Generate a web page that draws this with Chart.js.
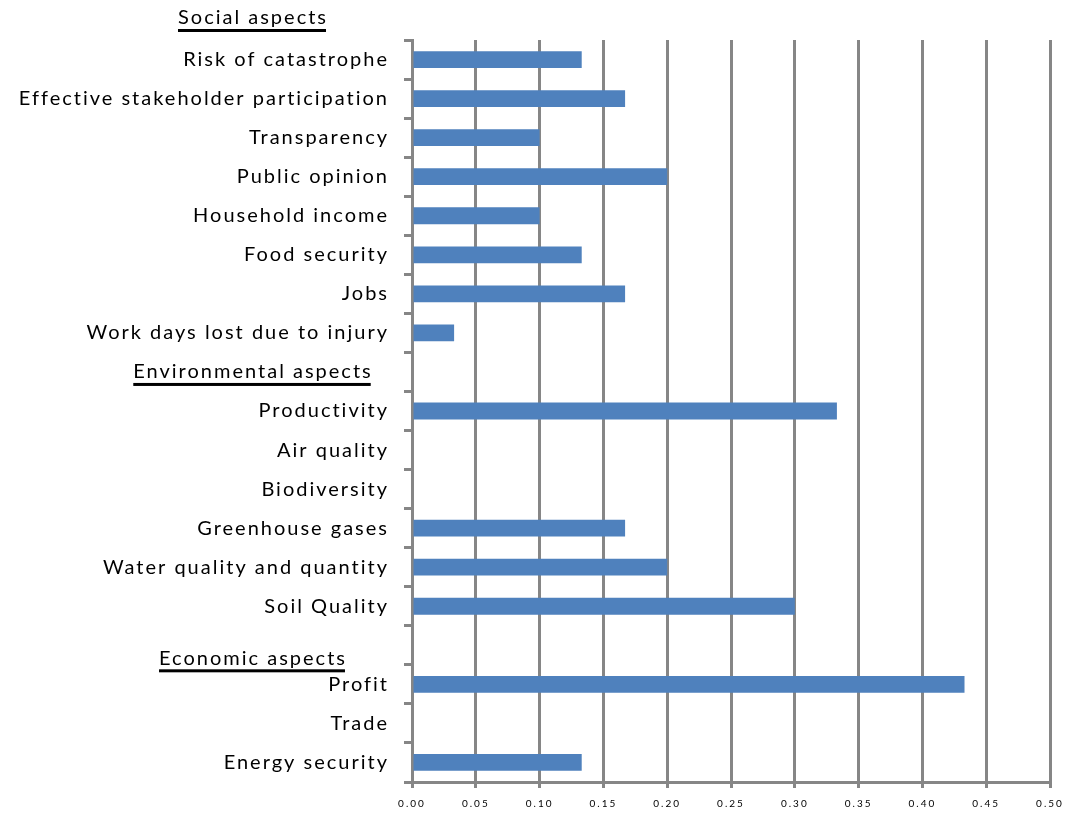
<!DOCTYPE html>
<html>
<head>
<meta charset="utf-8">
<script src="https://cdn.jsdelivr.net/npm/chart.js@4"></script>
<style>
  body { margin: 0; background: #fff; }
  #wrap { width: 1077px; height: 819px; }
</style>
</head>
<body>
<div id="wrap"><canvas id="chartAspects"></canvas></div>
<script>
// Categories from top to bottom ('' = row used by a section header)
const categories = [
    'Risk of catastrophe', 'Effective stakeholder participation', 'Transparency',
    'Public opinion', 'Household income', 'Food security', 'Jobs',
    'Work days lost due to injury', '',
    'Productivity', 'Air quality', 'Biodiversity', 'Greenhouse gases',
    'Water quality and quantity', 'Soil Quality', '',
    'Profit', 'Trade', 'Energy security'
];
const weights = [
    0.133, 0.167, 0.10, 0.20, 0.10, 0.133, 0.167, 0.033, null,
    0.333, 0, 0, 0.167, 0.20, 0.30, null,
    0.433, 0, 0.133
];
const headers = ['Social aspects', 'Environmental aspects', 'Economic aspects'];
const xTicks = [0, 0.05, 0.10, 0.15, 0.20, 0.25, 0.30, 0.35, 0.40, 0.45, 0.50];

const labelFont = 'Lato, "Open Sans", sans-serif';

// Wide letter spacing for the axis texts (the original looks spread out)
const spacingPlugin = {
    id: 'spacing',
    beforeDraw(chart) { chart.ctx.letterSpacing = '2px'; },
    beforeDatasetsDraw(chart) { chart.ctx.letterSpacing = '0px'; }
};

// Draw the underlined section headers
const headerPlugin = {
    id: 'headers',
    afterDraw(chart) {
        const ctx = chart.ctx;
        const y = chart.scales.y;
        const cx = 252;
        const spots = [
            chart.chartArea.top - 22,
            y.getPixelForValue(8),
            y.getPixelForValue(15) + 13
        ];
        ctx.save();
        ctx.letterSpacing = '2px';
        ctx.font = '20px ' + labelFont;
        ctx.fillStyle = '#000';
        ctx.textAlign = 'center';
        ctx.textBaseline = 'middle';
        headers.forEach((h, i) => {
            const w = ctx.measureText(h).width - 2;
            ctx.fillText(h, cx + 1, spots[i]);
            ctx.fillRect(cx - w / 2, spots[i] + 11, w, 3);
        });
        ctx.restore();
    }
};

const ctx = document.getElementById('chartAspects').getContext('2d');
new Chart(ctx, {
    type: 'bar',
    data: {
        labels: categories,
        datasets: [{
            data: weights,
            backgroundColor: '#4f81bd',
            borderWidth: 0,
            barPercentage: 0.86,
            categoryPercentage: 0.5
        }]
    },
    options: {
        indexAxis: 'y',
        responsive: true,
        maintainAspectRatio: false,
        animation: false,
        layout: { padding: { top: 40, right: 27, left: 0, bottom: 0 } },
        plugins: {
            legend: { display: false },
            tooltip: { enabled: false }
        },
        scales: {
            x: {
                min: 0,
                max: 0.5,
                afterBuildTicks: (scale) => {
                    scale.ticks = xTicks.map(v => ({ value: v }));
                },
                afterFit: (scale) => { scale.height = 37; },
                ticks: {
                    color: '#000',
                    font: { size: 10, family: labelFont },
                    padding: 10,
                    maxRotation: 0,
                    callback: (v) => Number(v).toFixed(2)
                },
                grid: {
                    color: '#868686',
                    lineWidth: 3,
                    tickLength: 6
                },
                border: { color: '#868686', width: 3 }
            },
            y: {
                afterFit: (scale) => { scale.width = 412; },
                grid: {
                    offset: true,
                    drawOnChartArea: false,
                    color: '#868686',
                    lineWidth: 3,
                    tickLength: 8
                },
                border: { color: '#868686', width: 3 },
                ticks: {
                    color: '#000',
                    font: { size: 20, family: labelFont },
                    padding: 15,
                    autoSkip: false
                }
            }
        }
    },
    plugins: [spacingPlugin, headerPlugin]
});
</script>
</body>
</html>
